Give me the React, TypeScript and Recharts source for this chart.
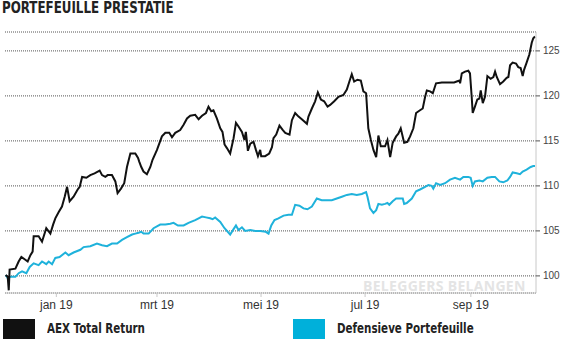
import { LineChart, Line, XAxis, YAxis, CartesianGrid } from 'recharts';

// day numbers count from 1 dec 2018
const aexDays = [
  1.3, 2.5, 3.1, 3.6, 7.0, 8.9, 10.5, 12.8, 14.2, 15.8, 17.1, 17.7, 20.6, 22.6, 25.1, 27.5, 29.1, 30.4,
  32.4, 34.3, 35.9, 37.3, 38.8, 41.1, 43.5, 44.7, 46.1, 48.6, 50.9, 53.4, 56.4, 57.8, 59.7, 61.1, 63.6,
  65.6, 66.9, 68.9, 70.8, 72.4, 74.4, 77.3, 78.9, 79.6, 80.8, 82.1, 84.1, 86.1, 87.4, 90.0, 92.9, 94.9,
  97.2, 98.8, 100.7, 103.6, 105.6, 107.6, 109.5, 112.4, 114.4, 116.4, 118.7, 120.2, 121.8, 123.1, 125.1,
  127.1, 128.4, 129.6, 131.0, 132.9, 134.9, 136.3, 137.8, 139.8, 141.3, 142.1, 143.3, 144.7, 146.6, 148.0,
  149.2, 150.5, 151.1, 153.4, 155.8, 157.4, 158.3, 159.9, 161.8, 163.8, 165.2, 167.7, 169.1, 171.0, 173.0,
  174.9, 177.9, 178.8, 180.8, 182.7, 184.3, 186.1, 188.0, 190.0, 191.5, 193.9, 196.4, 199.3, 201.3, 202.8,
  204.2, 205.6, 207.5, 209.5, 211.0, 212.6, 213.9, 215.4, 216.9, 218.5, 219.8, 221.2, 223.7, 225.1, 226.7,
  228.2, 230.2, 231.5, 232.9, 234.9, 236.8, 238.4, 240.3, 241.9, 244.2, 245.8, 247.2, 248.2, 250.1, 251.7,
  253.6, 257.0, 260.8, 264.2, 265.7, 267.3, 267.7, 268.7, 270.6, 272.5, 273.5, 274.5, 275.1, 276.4, 277.8,
  279.0, 279.8, 281.0, 282.3, 283.7, 285.6, 287.2, 288.2, 289.2, 291.1, 293.0, 295.0, 296.0, 297.0, 298.5,
  300.5, 301.8, 303.2, 304.4, 305.2, 306.7, 308.3, 309.7, 310.6, 311.6,
];
const aexValues = [
  100.1, 99.9, 98.4, 100.7, 100.8, 101.6, 102.1, 101.8, 101.6, 102.3, 102.7, 104.4, 104.4, 103.8, 105.3,
  104.7, 105.7, 106.4, 107.1, 107.7, 108.8, 109.9, 108.3, 108.8, 109.6, 109.9, 111.0, 110.9, 111.2, 111.4,
  111.7, 111.2, 111.0, 111.2, 111.2, 110.5, 109.2, 109.7, 110.3, 112.1, 113.6, 113.6, 113.1, 112.7, 112.1,
  111.6, 111.3, 112.1, 112.9, 114.0, 115.5, 115.9, 115.9, 115.4, 115.9, 116.2, 116.8, 117.5, 117.8, 117.9,
  117.4, 117.8, 118.1, 118.8, 118.3, 118.4, 117.5, 116.4, 116.0, 114.6, 114.2, 113.6, 115.3, 117.0, 116.6,
  116.0, 115.1, 116.0, 113.9, 114.7, 114.9, 114.0, 113.3, 114.0, 113.3, 113.3, 113.6, 114.3, 115.3, 115.7,
  116.7, 116.2, 115.9, 115.7, 117.3, 118.1, 117.7, 117.4, 116.9, 117.7, 118.6, 119.4, 120.4, 119.6, 119.4,
  118.8, 119.0, 119.4, 119.9, 120.1, 120.7, 121.6, 122.4, 121.6, 121.8, 121.7, 120.5, 120.3, 116.4, 115.1,
  114.0, 113.2, 115.6, 114.4, 114.4, 115.1, 113.2, 114.8, 115.5, 115.8, 116.4, 114.8, 114.9, 115.5, 116.4,
  118.1, 118.4, 118.6, 119.9, 120.6, 120.5, 120.3, 121.4, 121.5, 121.5, 121.5, 121.6, 121.7, 121.4, 122.5,
  122.7, 122.8, 122.5, 119.9, 118.1, 118.8, 119.6, 119.7, 120.6, 119.2, 119.9, 122.2, 121.9, 122.1, 122.7,
  122.1, 121.3, 121.6, 122.0, 122.1, 123.4, 123.7, 123.6, 123.2, 123.1, 122.2, 122.9, 123.7, 124.6, 125.9,
  126.4, 126.6,
];

const defDays = [
  1.3, 2.3, 4.1, 7.0, 8.9, 10.9, 13.4, 15.4, 17.7, 20.6, 22.6, 25.1, 26.5, 28.5, 30.4, 32.9, 36.3, 38.2,
  41.1, 45.1, 47.0, 50.9, 54.8, 57.8, 60.7, 63.6, 66.6, 69.5, 72.4, 75.4, 77.3, 79.2, 80.8, 82.1, 85.1,
  88.0, 91.9, 94.9, 97.8, 99.7, 102.3, 105.6, 108.5, 112.4, 114.4, 116.4, 118.7, 121.2, 122.6, 124.1,
  127.1, 129.6, 132.9, 134.9, 136.3, 137.8, 139.8, 141.7, 144.7, 147.6, 150.5, 153.8, 155.4, 157.0, 158.9,
  161.2, 164.2, 167.1, 169.1, 171.0, 173.5, 175.9, 178.2, 180.8, 183.7, 186.6, 189.6, 192.5, 195.4, 198.4,
  201.3, 204.2, 207.1, 210.1, 212.6, 213.4, 214.9, 216.9, 218.5, 219.8, 221.8, 223.7, 225.1, 226.2, 228.2,
  230.2, 232.1, 234.1, 234.9, 236.4, 239.4, 241.9, 244.2, 247.2, 249.1, 251.1, 252.0, 253.6, 256.0, 258.9,
  261.8, 264.7, 267.7, 269.6, 272.5, 273.9, 275.1, 276.4, 279.0, 281.0, 283.7, 286.2, 288.2, 290.7, 293.0,
  295.4, 297.0, 298.5, 300.9, 302.8, 304.4, 306.7, 309.1, 310.6, 311.6,
];
const defValues = [
  100.1, 99.8, 99.9, 99.9, 100.3, 100.5, 100.3, 101.0, 101.4, 101.2, 101.6, 101.3, 101.6, 101.3, 102.0,
  102.1, 102.6, 102.3, 102.6, 102.9, 103.2, 103.3, 103.6, 103.4, 103.3, 103.6, 103.6, 104.0, 104.3, 104.6,
  104.7, 104.8, 104.9, 104.7, 104.7, 105.3, 105.7, 105.7, 105.8, 105.9, 105.6, 105.6, 105.9, 106.2, 106.4,
  106.6, 106.5, 106.4, 106.3, 106.5, 106.0, 105.3, 104.6, 105.2, 105.6, 105.1, 105.4, 105.0, 105.1, 105.0,
  105.0, 104.9, 104.7, 105.6, 106.2, 106.4, 106.7, 106.8, 106.8, 107.9, 107.8, 107.5, 107.4, 107.7, 108.6,
  108.4, 108.4, 108.4, 108.6, 108.8, 109.0, 109.1, 109.0, 109.1, 109.3, 108.8, 107.5, 107.0, 107.3, 108.0,
  107.9, 108.0, 108.1, 107.9, 108.3, 108.6, 108.6, 108.6, 108.0, 108.1, 108.6, 109.4, 109.6, 109.9, 110.1,
  110.0, 109.7, 110.3, 110.1, 110.3, 110.7, 110.9, 110.7, 111.0, 111.0, 110.9, 110.0, 110.5, 110.6, 110.5,
  110.9, 111.0, 111.0, 110.5, 110.4, 110.6, 111.0, 111.5, 111.4, 111.3, 111.6, 111.8, 112.1, 112.2, 112.2,
];

const monthTicks = [31, 90, 151, 212, 274];
const monthLabels = ['jan 19', 'mrt 19', 'mei 19', 'jul 19', 'sep 19'];
const valueTicks = [100, 105, 110, 115, 120, 125];

const aexData = aexDays.map((d, i) => ({ d, v: aexValues[i] }));
const defData = defDays.map((d, i) => ({ d, v: defValues[i] }));

const narrow = "'Liberation Sans Narrow', 'Arial Narrow', 'DejaVu Sans Condensed', sans-serif";
const black = '#111111';
const blue = '#1fb2db';
const frame = '#c8c8c8';
const xDomain: [number, number] = [0.9, 312.2];
const yDomain: [number, number] = [98.1, 127.1];

const squeezed = (scale: number): React.CSSProperties => ({
  transform: `scaleX(${scale})`,
  transformOrigin: 'left center',
  whiteSpace: 'nowrap',
});

export default function App() {
  return (
    <div
      style={{
        position: 'absolute',
        left: 0,
        top: 0,
        width: 562,
        height: 341,
        background: '#fff',
        fontFamily: 'Liberation Sans, Arial, sans-serif',
      }}
    >
      <div
        style={{
          position: 'absolute',
          left: 2,
          top: 0,
          fontFamily: narrow,
          fontWeight: 'bold',
          fontSize: 15,
          lineHeight: '17px',
          color: '#222',
          ...squeezed(0.88),
        }}
      >
        PORTEFEUILLE PRESTATIE
      </div>

      <LineChart width={562} height={341} margin={{ top: 32, right: 0, bottom: 28, left: 5 }}>
        <CartesianGrid vertical={false} stroke="#555" strokeDasharray="1 1" />
        <XAxis
          dataKey="d"
          type="number"
          domain={xDomain}
          ticks={monthTicks}
          tickFormatter={(t: number) => monthLabels[monthTicks.indexOf(t)]}
          allowDataOverflow
          height={20}
          stroke={frame}
          tickSize={4}
          tickMargin={3}
          tick={{ fill: '#333', fontSize: 12 }}
        />
        <XAxis
          xAxisId="top"
          orientation="top"
          dataKey="d"
          type="number"
          domain={xDomain}
          allowDataOverflow
          height={0}
          tick={false}
          tickLine={false}
          stroke={frame}
        />
        <YAxis
          orientation="right"
          type="number"
          domain={yDomain}
          ticks={valueTicks}
          allowDataOverflow
          width={26}
          stroke={frame}
          tickLine={{ stroke: '#555' }}
          tickSize={4}
          tickMargin={3}
          tick={{ fill: '#444', fontSize: 10 }}
        />
        <YAxis
          yAxisId="left"
          orientation="left"
          type="number"
          domain={yDomain}
          width={0}
          tick={false}
          tickLine={false}
          stroke={frame}
        />
        <Line
          data={defData}
          dataKey="v"
          type="linear"
          stroke={blue}
          strokeWidth={2}
          dot={false}
          isAnimationActive={false}
        />
        <Line
          data={aexData}
          dataKey="v"
          type="linear"
          stroke={black}
          strokeWidth={2}
          dot={false}
          isAnimationActive={false}
        />
      </LineChart>

      <div
        style={{
          position: 'absolute',
          left: 363,
          top: 277,
          fontFamily: "'Open Sans', sans-serif",
          fontWeight: 'bold',
          fontSize: 14,
          lineHeight: '18px',
          color: '#e4e4e4',
          letterSpacing: 0.3,
        }}
      >
        BELEGGERS BELANGEN
      </div>

      <div style={{ position: 'absolute', left: 3, top: 319, width: 32, height: 20, background: black }} />
      <div
        style={{
          position: 'absolute',
          left: 47,
          top: 319,
          lineHeight: '18px',
          fontFamily: narrow,
          fontWeight: 'bold',
          fontSize: 14,
          color: '#222',
          ...squeezed(0.82),
        }}
      >
        AEX Total Return
      </div>
      <div style={{ position: 'absolute', left: 293, top: 319, width: 32, height: 20, background: '#00b0da' }} />
      <div
        style={{
          position: 'absolute',
          left: 337,
          top: 319,
          lineHeight: '18px',
          fontFamily: narrow,
          fontWeight: 'bold',
          fontSize: 14,
          color: '#222',
          ...squeezed(0.82),
        }}
      >
        Defensieve Portefeuille
      </div>
    </div>
  );
}
